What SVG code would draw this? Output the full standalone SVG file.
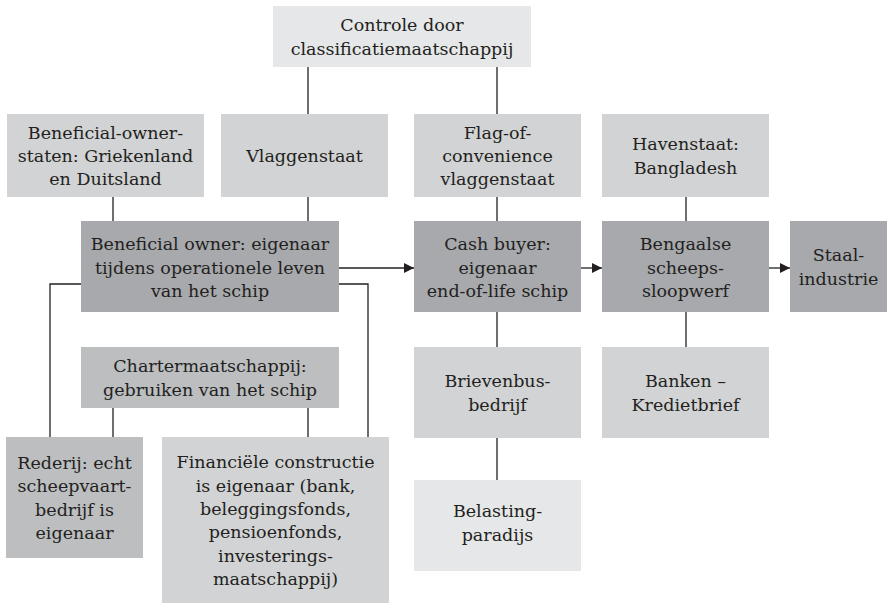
<svg xmlns="http://www.w3.org/2000/svg" width="887" height="603" viewBox="0 0 887 603">
<style>
.l1{fill:#e6e7e8}.l2{fill:#d1d3d4}.l3{fill:#bcbec0}.l4{fill:#a7a9ac}
text{font-family:"DejaVu Serif","Liberation Serif",serif;font-size:17.5px;fill:#231f20;text-anchor:middle}
.c line,.c path{stroke:#231f20;stroke-width:1.3;fill:none}
</style>
<defs><marker id="ah" markerWidth="10" markerHeight="10" refX="10" refY="5" orient="auto" markerUnits="userSpaceOnUse"><path d="M0,0 L10,5 L0,10 Z" fill="#231f20"/></marker></defs>
<g class="c" id="connectors">
<line x1="308" y1="67" x2="308" y2="114"/>
<line x1="497" y1="67" x2="497" y2="114"/>
<line x1="113" y1="197" x2="113" y2="221"/>
<line x1="308" y1="197" x2="308" y2="221"/>
<line x1="497" y1="197" x2="497" y2="221"/>
<line x1="686" y1="197" x2="686" y2="221"/>
<line x1="339" y1="268" x2="414" y2="268" marker-end="url(#ah)"/>
<line x1="581" y1="268" x2="602" y2="268" marker-end="url(#ah)"/>
<line x1="769" y1="268" x2="790" y2="268" marker-end="url(#ah)"/>
<path d="M81,284 H50 V437"/>
<path d="M339,284 H368 V437"/>
<line x1="113" y1="408" x2="113" y2="437"/>
<line x1="308" y1="408" x2="308" y2="437"/>
<line x1="497" y1="312" x2="497" y2="347"/>
<line x1="686" y1="312" x2="686" y2="347"/>
<line x1="497" y1="438" x2="497" y2="480"/>
</g>
<g id="controle"><rect class="l1" x="273" y="6" width="258" height="61"/><text x="402" y="31.3">Controle door</text><text x="402" y="54.6">classificatiemaatschappij</text></g>
<g id="bo-staten"><rect class="l2" x="7" y="114" width="197" height="83"/><text x="105.5" y="138.7">Beneficial-owner-</text><text x="105.5" y="162">staten: Griekenland</text><text x="105.5" y="185.3">en Duitsland</text></g>
<g id="vlaggenstaat"><rect class="l2" x="221" y="114" width="167" height="83"/><text x="304.5" y="162">Vlaggenstaat</text></g>
<g id="foc"><rect class="l2" x="414" y="114" width="167" height="83"/><text x="497.5" y="138.7">Flag-of-</text><text x="497.5" y="162">convenience</text><text x="497.5" y="185.3">vlaggenstaat</text></g>
<g id="havenstaat"><rect class="l2" x="602" y="114" width="167" height="83"/><text x="685.5" y="150.4">Havenstaat:</text><text x="685.5" y="173.7">Bangladesh</text></g>
<g id="bo"><rect class="l4" x="81" y="221" width="258" height="91"/><text x="210" y="250.4">Beneficial owner: eigenaar</text><text x="210" y="273.7">tijdens operationele leven</text><text x="210" y="297">van het schip</text></g>
<g id="cash"><rect class="l4" x="414" y="221" width="167" height="91"/><text x="497.5" y="250.4">Cash buyer:</text><text x="497.5" y="273.7">eigenaar</text><text x="497.5" y="297">end-of-life schip</text></g>
<g id="werf"><rect class="l4" x="602" y="221" width="167" height="91"/><text x="685.5" y="250.4">Bengaalse</text><text x="685.5" y="273.7">scheeps-</text><text x="685.5" y="297">sloopwerf</text></g>
<g id="staal"><rect class="l4" x="790" y="221" width="97" height="91"/><text x="838.5" y="261.4">Staal-</text><text x="838.5" y="284.7">industrie</text></g>
<g id="charter"><rect class="l3" x="81" y="347" width="258" height="61"/><text x="210" y="372.4">Chartermaatschappij:</text><text x="210" y="395.7">gebruiken van het schip</text></g>
<g id="brievenbus"><rect class="l2" x="414" y="347" width="167" height="91"/><text x="497.5" y="387.4">Brievenbus-</text><text x="497.5" y="410.7">bedrijf</text></g>
<g id="banken"><rect class="l2" x="602" y="347" width="167" height="91"/><text x="685.5" y="387.4">Banken –</text><text x="685.5" y="410.7">Kredietbrief</text></g>
<g id="rederij"><rect class="l3" x="6" y="437" width="137" height="121"/><text x="74.5" y="469.1">Rederij: echt</text><text x="74.5" y="492.4">scheepvaart-</text><text x="74.5" y="515.7">bedrijf is</text><text x="74.5" y="539">eigenaar</text></g>
<g id="financieel"><rect class="l2" x="162" y="437" width="227" height="166"/><text x="275.5" y="468.3">Financiële constructie</text><text x="275.5" y="491.6">is eigenaar (bank,</text><text x="275.5" y="514.9">beleggingsfonds,</text><text x="275.5" y="538.2">pensioenfonds,</text><text x="275.5" y="561.5">investerings-</text><text x="275.5" y="584.8">maatschappij)</text></g>
<g id="belasting"><rect class="l1" x="414" y="480" width="167" height="91"/><text x="497.5" y="517.4">Belasting-</text><text x="497.5" y="540.7">paradijs</text></g>
</svg>
